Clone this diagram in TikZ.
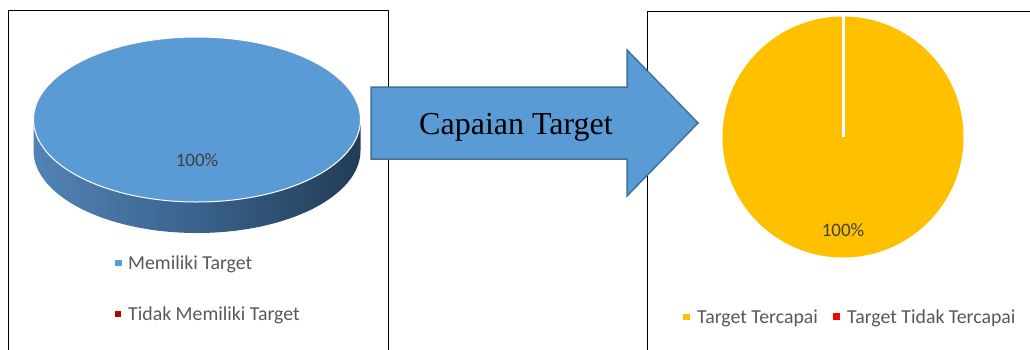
\documentclass[tikz,border=0pt]{standalone}
\usepackage{fontspec}
\setmainfont{Liberation Serif}
\newfontfamily\calibri{Carlito}
\definecolor{pieblue}{HTML}{5B9BD5}
\definecolor{arrowedge}{HTML}{41719C}
\definecolor{sideleft}{HTML}{5283B6}
\definecolor{sidemid}{HTML}{3A628C}
\definecolor{sideright}{HTML}{233C54}
\definecolor{gold}{HTML}{FFC000}
\definecolor{labelgray}{HTML}{404040}
\definecolor{legendgray}{HTML}{595959}
\definecolor{darkred}{HTML}{C00000}
\definecolor{brightred}{HTML}{FF0000}
\tikzset{
  frame/.style={draw=black, line width=1pt},
  legendtext/.style={anchor=base west, inner sep=0pt, text=legendgray, font=\calibri\fontsize{19.8}{23}\selectfont},
  pielabel/.style={anchor=base, inner sep=0pt, text=labelgray, font=\calibri\fontsize{19}{22}\selectfont},
  legendbox/.style={minimum width=6.5pt, minimum height=6.5pt, inner sep=0pt, anchor=center}
}
\begin{document}
\begin{tikzpicture}[x=1pt,y=-1pt]
\useasboundingbox (0,0) rectangle (1030,349);
\clip (0,0) rectangle (1030,349);
\fill[white] (0,0) rectangle (1030,349);
% frames
\draw[frame] (8,10) rectangle (388,360);
\draw[frame] (647,11) rectangle (1040,360);
% left 3D pie
\def\cx{197}\def\cy{119.5}\def\rx{163.5}\def\ry{82.5}\def\dep{31}
\shade[left color=sideleft, right color=sideright, middle color=sidemid]
  (\cx-\rx,\cy) -- (\cx-\rx,\cy+\dep) arc[start angle=180, end angle=0, x radius=\rx, y radius=\ry]
  -- (\cx+\rx,\cy) arc[start angle=0, end angle=180, x radius=\rx, y radius=\ry] -- cycle;
\fill[pieblue, draw=white, line width=1pt] (\cx,\cy) ellipse[x radius=\rx, y radius=\ry];
\node[pielabel] (lpct) at (197,166) {100\%};
% left legend
\node[legendbox, fill=pieblue] (lsq1) at (118.5,263) {};
\node[legendtext] (lleg1) at (128,269) {Memiliki Target};
\node[legendbox, fill=darkred] (lsq2) at (118,314) {};
\node[legendtext] (lleg2) at (128,320) {Tidak Memiliki Target};
% arrow
\draw[fill=pieblue, draw=arrowedge, line width=1.5pt, line join=miter]
  (371,87) -- (627,87) -- (627,50) -- (698,123) -- (627,196) -- (627,159) -- (371,159) -- cycle;
\node[anchor=base, inner sep=0pt, font=\fontsize{32}{36}\selectfont] (arrowtext) at (516,134) {Capaian Target};
% right pie
\fill[gold] (843,137) circle[radius=120.5];
\draw[white, line width=3pt] (843,137) -- (843,15);
\node[pielabel] (rpct) at (843,236) {100\%};
% right legend
\node[legendbox, fill=gold] (rsq1) at (686.5,317) {};
\node[legendtext] (rleg1) at (697,323) {Target Tercapai};
\node[legendbox, fill=brightred] (rsq2) at (836.5,316.5) {};
\node[legendtext] (rleg2) at (847,323) {Target Tidak Tercapai};
\end{tikzpicture}
\end{document}
